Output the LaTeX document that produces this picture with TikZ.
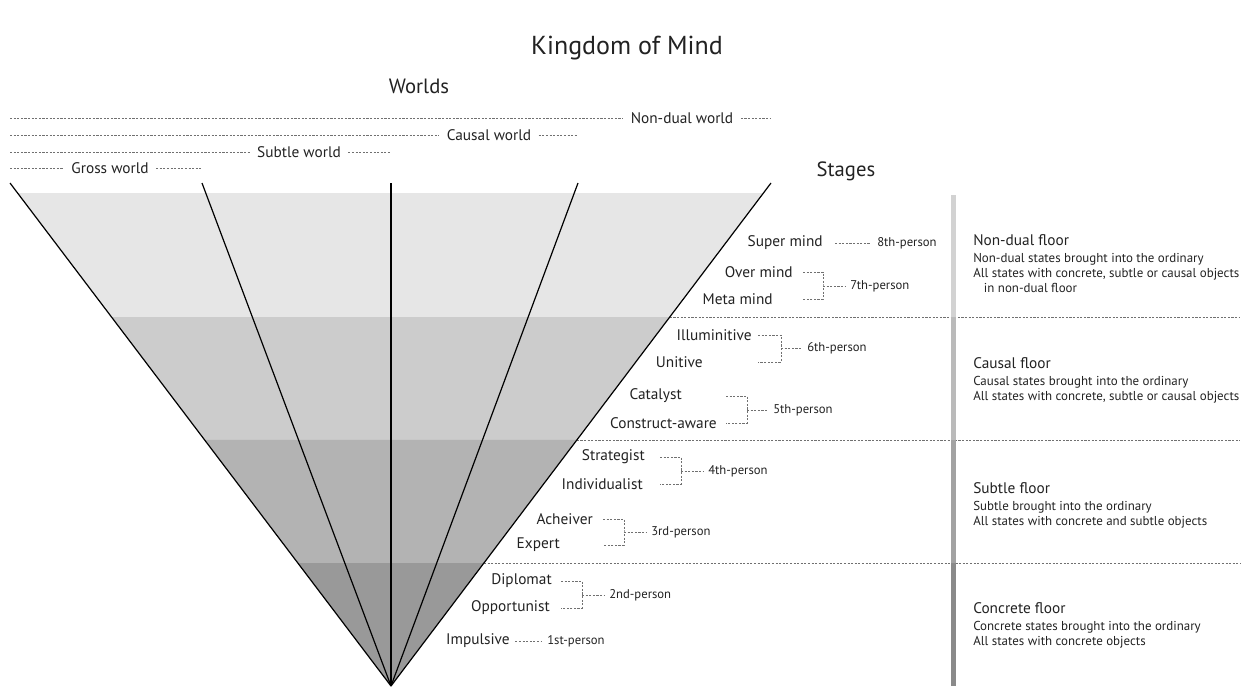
\documentclass[tikz,border=0pt]{standalone}
\usepackage{fontspec}
\setmainfont{PT Sans}
\usetikzlibrary{calc,positioning}

\definecolor{bandA}{HTML}{E6E6E6}
\definecolor{bandB}{HTML}{CCCCCC}
\definecolor{bandC}{HTML}{B3B3B3}
\definecolor{bandD}{HTML}{999999}
\definecolor{barA}{HTML}{D2D2D2}
\definecolor{barB}{HTML}{BABABA}
\definecolor{barC}{HTML}{A2A2A2}
\definecolor{barD}{HTML}{8A8A8A}
\definecolor{dots}{HTML}{707070}
\definecolor{ink}{HTML}{222222}

\begin{document}
\begin{tikzpicture}[x=0.75pt, y=-0.75pt]
    \tikzset{title/.style={font=\fontsize{19.5}{22}\selectfont, text=ink},
      head/.style={font=\fontsize{15.5}{18}\selectfont, text=ink},
      world/.style={font=\fontsize{11.5}{13}\selectfont, text=ink, inner xsep=5.5pt, inner ysep=0pt},
      stage/.style={font=\fontsize{11.5}{13}\selectfont, text=ink, anchor=east, inner sep=0pt},
      person/.style={font=\fontsize{9.5}{11}\selectfont, text=ink, anchor=west, inner sep=0pt},
      floorname/.style={font=\fontsize{11.5}{13}\selectfont, text=ink, anchor=west, inner sep=0pt},
      floortext/.style={font=\fontsize{9.7}{11.25}\selectfont, text=ink, anchor=north west, inner sep=0pt, align=left},
      dotline/.style={draw=dots, line width=0.5pt, dash pattern=on 1.6pt off 1.1pt},
      edge/.style={draw=black, line width=0.9pt}}
    \useasboundingbox (0,0) rectangle (1254,686);

    % cone
    \coordinate (apex) at (391,686);
    \coordinate (t1) at (10,183);
    \coordinate (t2) at (202,183);
    \coordinate (t3) at (391,183);
    \coordinate (t4) at (578,183);
    \coordinate (t5) at (771,183);
    \coordinate (rim) at (1240,0);

    \fill[bandA] ($(t1)!0.0199!(apex)$) -- ($(t5)!0.0199!(apex)$) -- ($(t5)!0.2664!(apex)$) -- ($(t1)!0.2664!(apex)$) -- cycle;
    \fill[bandB] ($(t1)!0.2664!(apex)$) -- ($(t5)!0.2664!(apex)$) -- ($(t5)!0.5109!(apex)$) -- ($(t1)!0.5109!(apex)$) -- cycle;
    \fill[bandC] ($(t1)!0.5109!(apex)$) -- ($(t5)!0.5109!(apex)$) -- ($(t5)!0.7555!(apex)$) -- ($(t1)!0.7555!(apex)$) -- cycle;
    \fill[bandD] ($(t1)!0.7555!(apex)$) -- ($(t5)!0.7555!(apex)$) -- (apex) -- cycle;

    \coordinate (f1) at ($(t5)!0.2664!(apex)$);
    \coordinate (f2) at ($(t5)!0.5109!(apex)$);
    \coordinate (f3) at ($(t5)!0.7555!(apex)$);
    \draw[dotline] (f1) -- (f1 -| rim);
    \draw[dotline] (f2) -- (f2 -| rim);
    \draw[dotline] (f3) -- (f3 -| rim);

    \foreach \t in {t1,t2,t3,t4,t5}
      \draw[edge] (\t) -- (apex);

    % floor bar
    \fill[barA] (951,195) rectangle (956,317);
    \fill[barB] (951,317) rectangle (956,440);
    \fill[barC] (951,440) rectangle (956,563);
    \fill[barD] (951,563) rectangle (956,686);

    % headings
    \node[title] (kingdom) at (627,48) {Kingdom of Mind};
    \node[head] (worlds) at (419,86) {Worlds};
    \node[head] (stages) at (846,171) {Stages};

    % worlds
    \node[world] (ndw) at (682,118) {Non-dual world};
    \node[world] (cw) at (489,135) {Causal world};
    \node[world] (sw) at (299,152) {Subtle world};
    \node[world] (gw) at (110,168) {Gross world};
    \draw[dotline] (t1 |- ndw) -- (ndw.west);
    \draw[dotline] (ndw.east) -- (ndw -| t5);
    \draw[dotline] (t1 |- cw) -- (cw.west);
    \draw[dotline] (cw.east) -- (cw -| t4);
    \draw[dotline] (t1 |- sw) -- (sw.west);
    \draw[dotline] (sw.east) -- (sw -| t3);
    \draw[dotline] (t1 |- gw) -- (gw.west);
    \draw[dotline] (gw.east) -- (gw -| t2);

    % stages
    \node[stage] (super) at (823,243) {Super mind};
    \node[stage] (over) at (793,272) {Over mind};
    \node[stage] (meta) at (773,299) {Meta mind};
    \node[stage] (illum) at (752,335) {Illuminitive};
    \node[stage] (unitive) at (703,362) {Unitive};
    \node[stage] (catalyst) at (682,396) {Catalyst};
    \node[stage] (construct) at (717,423) {Construct-aware};
    \node[stage] (strategist) at (645,457) {Strategist};
    \node[stage] (individ) at (643,484) {Individualist};
    \node[stage] (acheiver) at (593,519) {Acheiver};
    \node[stage] (expert) at (560,545) {Expert};
    \node[stage] (diplomat) at (552,581) {Diplomat};
    \node[stage] (opport) at (550,608) {Opportunist};
    \node[stage] (impulsive) at (510,641) {Impulsive};

    % persons
    \node[person] (p8) at (877,243) {8th-person};
    \node[person] (p7) at (850,286) {7th-person};
    \node[person] (p6) at (807,348) {6th-person};
    \node[person] (p5) at (773,410) {5th-person};
    \node[person] (p4) at (708,471) {4th-person};
    \node[person] (p3) at (651,532) {3rd-person};
    \node[person] (p2) at (609,595) {2nd-person};
    \node[person] (p1) at (547,641) {1st-person};

    \draw[dotline, shorten <=9pt, shorten >=5pt] (super.east) -- (p8.west);
    \draw[dotline, shorten <=4pt, shorten >=4pt] (impulsive.east) -- (p1.west);

    \coordinate (b7) at (803,0);  \coordinate (j7) at (823,286);
    \coordinate (b6) at (758,0);  \coordinate (j6) at (781,348);
    \coordinate (b5) at (726,0);  \coordinate (j5) at (747,410);
    \coordinate (b4) at (660,0);  \coordinate (j4) at (681,471);
    \coordinate (b3) at (603,0);  \coordinate (j3) at (624,532);
    \coordinate (b2) at (561,0);  \coordinate (j2) at (582,595);
    \draw[dotline] (over -| b7) -| (j7) |- (meta -| b7);
    \draw[dotline, shorten >=4pt] (j7) -- (p7.west);
    \draw[dotline] (illum -| b6) -| (j6) |- (unitive -| b6);
    \draw[dotline, shorten >=4pt] (j6) -- (p6.west);
    \draw[dotline] (catalyst -| b5) -| (j5) |- (construct -| b5);
    \draw[dotline, shorten >=4pt] (j5) -- (p5.west);
    \draw[dotline] (strategist -| b4) -| (j4) |- (individ -| b4);
    \draw[dotline, shorten >=4pt] (j4) -- (p4.west);
    \draw[dotline] (acheiver -| b3) -| (j3) |- (expert -| b3);
    \draw[dotline, shorten >=4pt] (j3) -- (p3.west);
    \draw[dotline] (diplomat -| b2) -| (j2) |- (opport -| b2);
    \draw[dotline, shorten >=4pt] (j2) -- (p2.west);

    % floors
    \node[floorname] (ndf) at (973,240) {Non-dual floor};
    \node[floortext] (ndt) at (973,253) {Non-dual states brought into the ordinary\\All states with concrete, subtle or causal objects\\\hspace*{8pt}in non-dual floor};
    \node[floorname] (cf) at (973,363) {Causal floor};
    \node[floortext] (cft) at (973,376) {Causal states brought into the ordinary\\All states with concrete, subtle or causal objects};
    \node[floorname] (sf) at (973,488) {Subtle floor};
    \node[floortext] (sft) at (973,501) {Subtle brought into the ordinary\\All states with concrete and subtle objects};
    \node[floorname] (crf) at (973,608) {Concrete floor};
    \node[floortext] (crft) at (973,621) {Concrete states brought into the ordinary\\All states with concrete objects};
  \end{tikzpicture}
\end{document}
